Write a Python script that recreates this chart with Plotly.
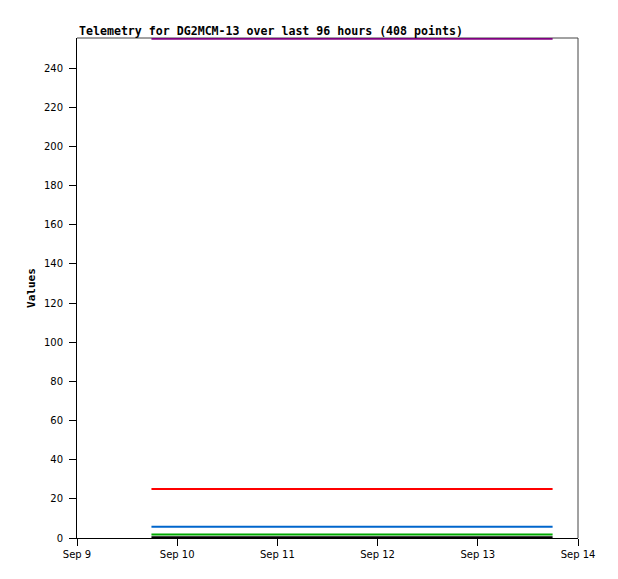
import plotly.graph_objects as go

# ---- data ----
times = ["2020-09-09 17:50", "2020-09-13 17:55"]
series_names = ["ch1", "ch2", "ch3", "ch4", "ch5"]
series_values = [
    [255, 255],   # purple
    [25, 25],     # red
    [5.7, 5.7],   # blue
    [1.8, 1.8],   # green
    [0.4, 0.4],   # black
]
series_colors = ["#800080", "#ff0000", "#0066cc", "#00aa00", "#000000"]
x_tickvals = ["2020-09-09", "2020-09-10", "2020-09-11", "2020-09-12", "2020-09-13", "2020-09-14"]
x_ticktext = ["Sep 9", "Sep 10", "Sep 11", "Sep 12", "Sep 13", "Sep 14"]
y_ticks = list(range(0, 241, 20))

fig = go.Figure()
for name, vals, col in zip(series_names, series_values, series_colors):
    fig.add_trace(go.Scatter(x=times, y=vals, mode="lines", name=name,
                             line=dict(color=col, width=2), cliponaxis=False,
                             showlegend=False))

tick_font = dict(family="DejaVu Sans", size=10, color="#000000")
fig.update_layout(
    width=610, height=571,
    margin=dict(l=69, r=40, t=30, b=41),
    paper_bgcolor="white", plot_bgcolor="white",
    showlegend=False,
    xaxis=dict(range=["2020-09-09", "2020-09-14"], tickvals=x_tickvals, ticktext=x_ticktext,
               showgrid=False, zeroline=False, showline=True, linecolor="black", linewidth=1,
               ticks="outside", ticklen=7, tickcolor="black", tickfont=tick_font),
    yaxis=dict(range=[0, 255.4], tickvals=y_ticks, showgrid=False, zeroline=False,
               showline=True, linecolor="black", linewidth=1,
               ticks="outside", ticklen=7, tickcolor="black", tickfont=tick_font,
               ticklabelstandoff=4,
               title=dict(text="<b>Values</b>", standoff=6,
                          font=dict(family="DejaVu Sans Mono", size=11, color="black"))),
    shapes=[
        dict(type="line", xref="paper", yref="paper", x0=0, x1=1, y0=1, y1=1,
             line=dict(color="#444444", width=1), layer="below"),
        dict(type="line", xref="paper", yref="paper", x0=1, x1=1, y0=0, y1=1,
             line=dict(color="#444444", width=1), layer="below"),
    ],
    annotations=[dict(text="<b>Telemetry for DG2MCM-13 over last 96 hours (408 points)</b>",
                      xref="paper", yref="paper", x=0, y=1.014, xanchor="left", yanchor="middle",
                      showarrow=False,
                      font=dict(family="DejaVu Sans Mono", size=11.6, color="black"))],
)
fig.write_html("out.html")
